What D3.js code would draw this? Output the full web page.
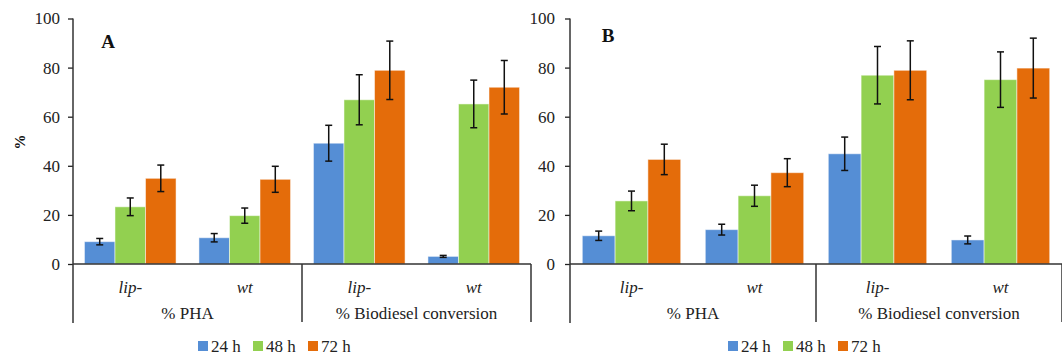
<!DOCTYPE html>
<html>
  <head>
    <meta http-equiv="Content-type" content="text/html; charset=utf-8">
    <title>PHA and biodiesel conversion</title>
    <script src="https://d3js.org/d3.v7.min.js"></script>
    <style>
      body { margin: 0; background: #fff; }
    </style>
  </head>
  <body>
    <div id="chart"></div>
    <script type="text/javascript">
      // data
      var strains = ["lip-", "wt", "lip-", "wt"];
      var measures = ["% PHA", "% Biodiesel conversion"];
      var series = ["24 h", "48 h", "72 h"];
      var colors = ["#558ed5", "#92d050", "#e46c0a"];
      var yTicks = [0, 20, 40, 60, 80, 100];

      // panel A
      var valuesA24 = [9.1, 10.7, 49.2, 3.1];
      var valuesA48 = [23.3, 19.7, 66.9, 65.2];
      var valuesA72 = [34.9, 34.5, 78.9, 72.0];
      var errorsA24 = [1.3, 1.7, 7.3, 0.4];
      var errorsA48 = [3.6, 3.1, 10.2, 9.7];
      var errorsA72 = [5.4, 5.3, 11.9, 10.9];

      // panel B
      var valuesB24 = [11.5, 14.0, 44.9, 9.8];
      var valuesB48 = [25.7, 27.8, 76.9, 75.1];
      var valuesB72 = [42.6, 37.2, 78.9, 79.8];
      var errorsB24 = [1.9, 2.2, 6.8, 1.6];
      var errorsB48 = [4.0, 4.3, 11.7, 11.3];
      var errorsB72 = [6.2, 5.7, 12.0, 12.2];

      var width = 1062, height = 356;
      var serif = "Liberation Serif";

      var svg = d3.select("#chart").append("svg")
        .attr("width", width)
        .attr("height", height)
        .attr("font-family", serif)
        .style("display", "block");

      function drawPanel(p) {
        var g = svg.append("g");
        var cats = d3.range(strains.length);

        var x = d3.scaleBand()
          .domain(cats)
          .range([p.left, p.right]);

        var xs = d3.scaleBand()
          .domain(d3.range(series.length))
          .range([0, x.bandwidth()])
          .paddingOuter(0.375);

        var y = d3.scaleLinear()
          .domain([0, 100])
          .range([264, 18.5]);

        var rows = [];
        cats.forEach(function(c) {
          series.forEach(function(s, j) {
            rows.push({ cat: c, s: j, v: p.values[j][c], e: p.errors[j][c] });
          });
        });

        // bars
        g.selectAll("rect.bar")
          .data(rows)
          .enter().append("rect")
          .attr("class", "bar")
          .attr("x", function(d) { return x(d.cat) + xs(d.s); })
          .attr("y", function(d) { return y(d.v); })
          .attr("width", xs.bandwidth())
          .attr("height", function(d) { return y(0) - y(d.v); })
          .style("fill", function(d) { return colors[d.s]; })
          .style("stroke", "rgba(255,255,255,0.5)")
          .style("stroke-width", 1);

        // error bars
        var eb = g.selectAll("g.err")
          .data(rows)
          .enter().append("g")
          .attr("class", "err")
          .attr("transform", function(d) { return "translate(" + (x(d.cat) + xs(d.s) + xs.bandwidth() / 2) + ",0)"; });
        eb.append("line")
          .attr("y1", function(d) { return y(d.v + d.e); })
          .attr("y2", function(d) { return y(d.v - d.e); });
        eb.append("line")
          .attr("x1", -3.5).attr("x2", 3.5)
          .attr("y1", function(d) { return y(d.v + d.e); })
          .attr("y2", function(d) { return y(d.v + d.e); });
        eb.append("line")
          .attr("x1", -3.5).attr("x2", 3.5)
          .attr("y1", function(d) { return y(d.v - d.e); })
          .attr("y2", function(d) { return y(d.v - d.e); });
        eb.selectAll("line")
          .style("stroke", "#111")
          .style("stroke-width", 1.5);

        // y axis
        var yAxis = d3.axisLeft(y)
          .tickValues(yTicks)
          .tickSize(5)
          .tickPadding(p.tickPad);
        var ya = g.append("g")
          .attr("transform", "translate(" + p.left + ",0)")
          .call(yAxis)
          .attr("font-family", serif)
          .attr("font-size", 17);
        ya.select(".domain").remove();
        ya.selectAll(".tick line").style("stroke", "#222").style("stroke-width", 1.3);
        ya.selectAll(".tick text").style("fill", "#222");

        // axis lines and separators
        var lines = g.append("g").style("stroke", "#333").style("stroke-width", 1.5);
        lines.append("line")
          .attr("x1", p.left).attr("x2", p.left)
          .attr("y1", y(100)).attr("y2", 323);
        lines.append("line")
          .attr("x1", p.left).attr("x2", p.right)
          .attr("y1", y(0)).attr("y2", y(0));
        [2, 4].forEach(function(k) {
          var xx = k < strains.length ? x(k) : p.right;
          lines.append("line")
            .attr("x1", xx).attr("x2", xx)
            .attr("y1", y(0)).attr("y2", 322);
        });

        // strain labels
        g.selectAll("text.strain")
          .data(cats)
          .enter().append("text")
          .attr("class", "strain")
          .attr("x", function(c) { return x(c) + x.bandwidth() / 2; })
          .attr("y", 293)
          .attr("text-anchor", "middle")
          .attr("font-family", serif)
          .attr("font-size", 17)
          .attr("font-style", "italic")
          .attr("fill", "#222")
          .text(function(c) { return strains[c]; });

        // measure labels
        g.selectAll("text.measure")
          .data(measures)
          .enter().append("text")
          .attr("class", "measure")
          .attr("x", function(m, i) { return (x(i * 2) + x(i * 2 + 1) + x.bandwidth()) / 2; })
          .attr("y", 319)
          .attr("text-anchor", "middle")
          .attr("font-family", serif)
          .attr("font-size", 17)
          .attr("fill", "#222")
          .text(function(m) { return m; });

        // panel letter
        g.append("text")
          .attr("x", p.letterX)
          .attr("y", p.letterY)
          .attr("text-anchor", "middle")
          .attr("font-family", serif)
          .attr("font-size", 19)
          .attr("font-weight", "bold")
          .attr("fill", "#111")
          .text(p.letter);

        // legend
        var leg = g.selectAll("g.leg")
          .data(series)
          .enter().append("g")
          .attr("class", "leg")
          .attr("transform", function(s, i) { return "translate(" + (p.legendX + i * 55) + ",0)"; });
        leg.append("rect")
          .attr("y", 341).attr("width", 10).attr("height", 10)
          .style("fill", function(s, i) { return colors[i]; });
        leg.append("text")
          .attr("x", 13).attr("y", 351.5)
          .attr("font-family", serif)
          .attr("font-size", 17)
          .attr("fill", "#222")
          .text(function(s) { return s; });
      }

      drawPanel({
        left: 73, right: 531, tickPad: 8,
        values: [valuesA24, valuesA48, valuesA72],
        errors: [errorsA24, errorsA48, errorsA72],
        letter: "A", letterX: 108, letterY: 48,
        legendX: 198
      });

      drawPanel({
        left: 570, right: 1062, tickPad: 10,
        values: [valuesB24, valuesB48, valuesB72],
        errors: [errorsB24, errorsB48, errorsB72],
        letter: "B", letterX: 608, letterY: 42,
        legendX: 728
      });

      // y axis title
      svg.append("text")
        .attr("transform", "translate(25,142) rotate(-90)")
        .attr("text-anchor", "middle")
        .attr("font-family", serif)
        .attr("font-size", 15)
        .attr("font-weight", "bold")
        .attr("fill", "#111")
        .text("%");
    </script>
  </body>
</html>
